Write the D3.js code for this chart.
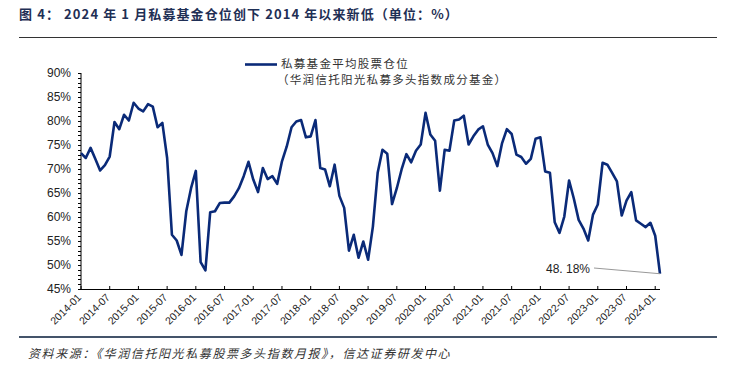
<!DOCTYPE html>
<html>
<head>
<meta charset="utf-8">
<script src="https://cdn.jsdelivr.net/npm/d3@7"></script>
<style>
  body { margin: 0; background: #fff; }
  svg { display: block; font-family: "Liberation Sans", Arial, "Noto Sans CJK SC", sans-serif; }
</style>
</head>
<body>
<svg width="736" height="367"></svg>
<script>
// monthly average equity position of private funds, from 2014-01 (%)
const values = [
  73.3, 72.3, 74.4, 72.1, 69.7, 70.8, 72.6, 79.8, 78.3, 81.3, 80.1, 83.8,
  82.6, 82.0, 83.5, 83.0, 78.7, 79.6, 72.3, 56.3, 55.1, 52.1, 61.2, 66.0,
  69.6, 50.6, 48.9, 61.0, 61.2, 62.9, 63.0, 63.0, 64.3, 66.0, 68.5, 71.5,
  67.8, 65.2, 70.2, 67.9, 68.5, 66.9, 71.6, 74.7, 78.7, 79.9, 80.2, 76.6,
  76.8, 80.2, 70.2, 69.9, 66.4, 70.9, 64.4, 61.9, 53.0, 56.3, 51.5, 54.9,
  51.1, 58.0, 69.2, 74.0, 73.2, 62.7, 66.0, 69.9, 73.1, 71.4, 73.8, 75.1,
  81.7, 77.2, 75.9, 65.5, 74.0, 73.8, 80.1, 80.3, 81.1, 75.1, 76.8, 78.2,
  78.9, 75.1, 73.3, 70.6, 75.4, 78.3, 77.3, 73.0, 72.5, 71.1, 72.1, 76.3,
  76.6, 69.5, 69.2, 58.9, 56.7, 60.1, 67.6, 63.8, 59.4, 57.6, 55.1, 60.5,
  62.6, 71.3, 70.9, 69.2, 67.4, 60.3, 63.4, 65.2, 59.3, 58.6, 57.9, 58.8,
  56.1, 48.18
];
const tickLabels = [
  "2014-01", "2014-07", "2015-01", "2015-07", "2016-01", "2016-07", "2017-01",
  "2017-07", "2018-01", "2018-07", "2019-01", "2019-07", "2020-01", "2020-07",
  "2021-01", "2021-07", "2022-01", "2022-07", "2023-01", "2023-07", "2024-01"
];
const yTicks = [45, 50, 55, 60, 65, 70, 75, 80, 85, 90];
const seriesName = "私募基金平均股票仓位";
const seriesNote = "（华润信托阳光私募多头指数成分基金）";
const lastLabel = "48. 18%";

const svg = d3.select("svg");
const navy = "#0a2a78";
const cjk = "'Noto Sans CJK SC', sans-serif";

const x = d3.scaleLinear().domain([0, values.length - 1]).range([81, 660]);
const y = d3.scaleLinear().domain([45, 90]).range([289, 73]);

// title
svg.append("text")
  .attr("x", 19).attr("y", 19)
  .attr("font-size", 13).attr("font-weight", "bold")
  .attr("fill", "#1f2f55")
  .attr("font-family", cjk)
  .attr("letter-spacing", 1.1)
  .text("图 4：  2024 年 1 月私募基金仓位创下 2014 年以来新低（单位：%）");

svg.append("line")
  .attr("x1", 19).attr("x2", 717).attr("y1", 37.5).attr("y2", 37.5)
  .attr("stroke", "#333").attr("stroke-width", 1);

// y axis with minor ticks every 1%
const yAxis = svg.append("g").attr("transform", "translate(81,0)");
yAxis.append("line").attr("y1", 73).attr("y2", 289).attr("stroke", "#000");
yAxis.selectAll("line.minor")
  .data(d3.range(45, 91, 1))
  .join("line").attr("class", "minor")
  .attr("x1", -3).attr("x2", 0)
  .attr("y1", d => Math.round(y(d)) + 0.5).attr("y2", d => Math.round(y(d)) + 0.5)
  .attr("stroke", "#000");
yAxis.selectAll("text")
  .data(yTicks)
  .join("text")
  .attr("x", -10).attr("y", d => y(d) + 4)
  .attr("text-anchor", "end")
  .attr("font-size", 12).attr("fill", "#222")
  .text(d => d + "%");

// x axis
const xAxis = svg.append("g");
xAxis.append("line").attr("x1", 81).attr("x2", 660).attr("y1", 289.5).attr("y2", 289.5)
  .attr("stroke", "#000").attr("stroke-width", 1.2);
xAxis.selectAll("line.tick")
  .data(tickLabels)
  .join("line").attr("class", "tick")
  .attr("x1", (d, i) => x(i * 6)).attr("x2", (d, i) => x(i * 6))
  .attr("y1", 286).attr("y2", 289)
  .attr("stroke", "#000");
xAxis.selectAll("text")
  .data(tickLabels)
  .join("text")
  .attr("text-anchor", "end")
  .attr("font-size", 10.5).attr("fill", "#222")
  .attr("transform", (d, i) => `translate(${x(i * 6) + 1},${298}) rotate(-45)`)
  .text(d => d);

// series line
const line = d3.line().x((d, i) => x(i)).y(d => y(d));
svg.append("path")
  .datum(values)
  .attr("d", line)
  .attr("fill", "none")
  .attr("stroke", navy)
  .attr("stroke-width", 2.6)
  .attr("stroke-linejoin", "round");

// last value label
const last = values.length - 1;
svg.append("line")
  .attr("x1", 594).attr("y1", 268)
  .attr("x2", x(last)).attr("y2", y(values[last]))
  .attr("stroke", "#999").attr("stroke-width", 1);
svg.append("text")
  .attr("x", 590).attr("y", 273)
  .attr("text-anchor", "end")
  .attr("font-size", 12).attr("fill", "#222")
  .text(lastLabel);

// legend
svg.append("line")
  .attr("x1", 245).attr("x2", 277).attr("y1", 64.5).attr("y2", 64.5)
  .attr("stroke", navy).attr("stroke-width", 2.6);
svg.append("text")
  .attr("x", 281).attr("y", 68)
  .attr("font-size", 11.5).attr("fill", "#333")
  .attr("font-family", cjk)
  .attr("letter-spacing", 1.3)
  .text(seriesName);
svg.append("text")
  .attr("x", 277).attr("y", 84)
  .attr("font-size", 11.5).attr("fill", "#333")
  .attr("font-family", cjk)
  .attr("letter-spacing", 1.3)
  .text(seriesNote);

// footer
svg.append("line")
  .attr("x1", 19).attr("x2", 717).attr("y1", 337).attr("y2", 337)
  .attr("stroke", "#44546a").attr("stroke-width", 2);
svg.append("text")
  .attr("x", 28).attr("y", 358)
  .attr("font-size", 12).attr("fill", "#333")
  .attr("font-style", "italic")
  .attr("font-family", cjk)
  .attr("letter-spacing", 1.6)
  .text("资料来源：《华润信托阳光私募股票多头指数月报》，信达证券研发中心");
</script>
</body>
</html>
